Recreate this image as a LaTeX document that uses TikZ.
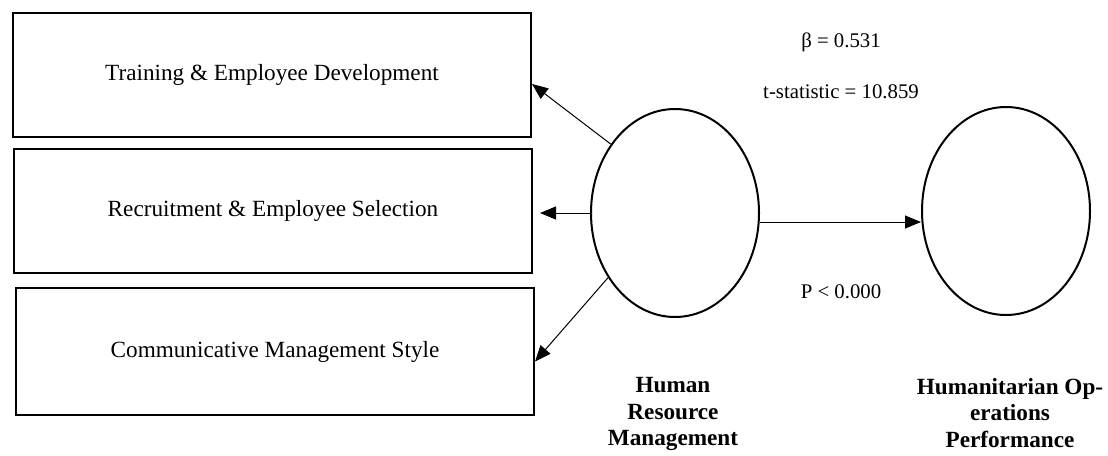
\documentclass[tikz,border=0pt]{standalone}
\usepackage{fontspec}
\setmainfont{Liberation Serif}
\usetikzlibrary{positioning}
\usetikzlibrary{shapes.geometric,arrows.meta}

\begin{document}
\begin{tikzpicture}
                [x=0.5pt, y=-0.5pt,
                 box/.style = {draw, line width=1pt, minimum width=259pt, minimum height=62pt, inner sep=0pt, font=\fontsize{11.6}{14}\selectfont},
                 lv/.style = {draw, ellipse, line width=1pt, minimum width=84pt, minimum height=104pt, inner sep=0pt},
                 arr/.style = {-{Triangle[length=8pt,width=6.5pt]}, line width=0.5pt},
                 stat/.style = {font=\fontsize{10.4}{12}\selectfont},
                 lvname/.style = {font=\bfseries\fontsize{11.6}{13.3}\selectfont, align=center}]
                \useasboundingbox (0,0) rectangle (1108,455);
                % Dimensions of human resource management
                \node[box] (train) at (272,75) {Training \& Employee Development};
                \node[box] (recruit) at (273,211) {Recruitment \& Employee Selection};
                \node[box, minimum height=63.5pt] (comm) at (275,351.5) {Communicative Management Style};
                % Latent variables
                \node[lv] (hrm) at (675,213) {};
                \node[lv] (hop) at (1006,211) {};
                \node[lvname] (hrmname) at (673,414) {Human\\Resource\\Management};
                \node[lvname] (hopname) at (1010,413) {Humanitarian Op-\\erations\\Performance};
                % Path coefficients
                \node[stat] (beta) at (841,42) {β = 0.531};
                \node[stat] (tstat) at (841,92) {t-statistic = 10.859};
                \node[stat] (pval) at (841,292) {P < 0.000};
                % Arrows
                \draw[arr] (hrm.133) -- ([yshift=-4.5pt]train.east);
                \draw[arr] (hrm.west) -- ([xshift=3.5pt]hrm.west -| recruit.east);
                \draw[arr] (hrm.224) -- ([yshift=-5pt]comm.east);
                \draw[arr] ([yshift=-4.5pt]hrm.east) -- ([yshift=-4.5pt]hrm.east -| hop.west);
            \end{tikzpicture}
\end{document}
